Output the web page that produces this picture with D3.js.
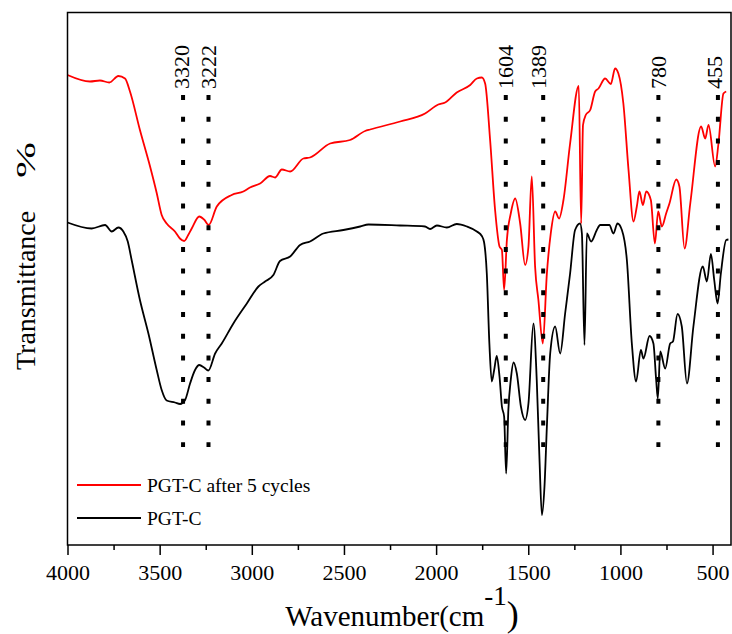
<!DOCTYPE html>
<html>
<head>
<meta charset="utf-8">
<title>FTIR spectra PGT-C</title>
<script src="https://d3js.org/d3.v7.min.js"></script>
<style>
  body { margin: 0; background: #fff; }
  text { font-family: "Liberation Serif", "Times New Roman", serif; fill: #000; }
</style>
</head>
<body>
<script>
// spectra: wavenumber (cm-1) and transmittance (arb. units)
var redWave = [4000, 3878, 3824, 3773, 3724, 3688, 3661, 3607, 3552, 3516, 3489, 3462, 3417, 3390, 3367, 3345,
    3326, 3285, 3259, 3234, 3190, 3109, 3046, 3010, 2955, 2901, 2874, 2837, 2792, 2720, 2684, 2575, 2467,
    2385, 2358, 2195, 2060, 1988, 1951, 1888, 1815, 1779, 1752, 1734, 1707, 1680, 1656, 1643, 1631, 1616,
    1595, 1571, 1544, 1517, 1499, 1481, 1463, 1445, 1421, 1399, 1378, 1354, 1333, 1309, 1273, 1226, 1213,
    1203, 1188, 1164, 1137, 1119, 1083, 1052, 1029, 1011, 984, 956, 929, 911, 897, 878, 860, 835, 813,
    795, 775, 752, 734, 697, 680, 652, 621, 562, 540, 522, 486, 468, 441, 426];
var redT = [94.0, 92.7, 92.9, 92.5, 93.8, 93.3, 90.7, 83.0, 75.7, 70.4, 66.0, 64.3, 62.7, 61.3, 60.8, 62.0,
    63.3, 65.7, 65.1, 64.0, 67.7, 70.0, 70.7, 71.5, 72.3, 73.8, 73.5, 75.1, 74.7, 77.3, 77.5, 80.3, 81.0,
    82.8, 83.1, 84.7, 86.3, 88.1, 88.5, 90.5, 92.0, 93.3, 93.5, 92.3, 81.0, 67.0, 59.7, 59.0, 51.0, 61.0,
    66.3, 69.3, 64.3, 56.0, 59.7, 73.7, 55.7, 49.0, 40.3, 54.3, 62.3, 66.7, 65.3, 69.0, 80.3, 91.8, 64.3,
    84.0, 86.0, 87.0, 90.7, 91.3, 93.3, 92.2, 95.3, 94.3, 88.3, 75.0, 64.7, 67.7, 70.7, 68.0, 70.7, 69.0, 60.3,
    66.7, 63.7, 66.3, 68.3, 73.1, 71.7, 59.3, 68.3, 83.7, 81.3, 84.0, 75.7, 80.3, 90.3, 90.7];

var blackWave = [4000, 3869, 3796, 3760, 3724, 3697, 3673, 3652, 3607, 3561, 3516, 3489, 3462, 3417, 3389,
    3362, 3335, 3308, 3285, 3259, 3236, 3199, 3163, 3100, 3027, 2964, 2928, 2883, 2847, 2792, 2738, 2684,
    2612, 2503, 2412, 2367, 2195, 2060, 2033, 1996, 1942, 1888, 1833, 1779, 1752, 1740, 1725, 1711, 1698,
    1685, 1671, 1656, 1643, 1631, 1620, 1608, 1595, 1580, 1562, 1540, 1517, 1499, 1472, 1454, 1439, 1426,
    1412, 1399, 1381, 1354, 1327, 1300, 1273, 1246, 1219, 1209, 1195, 1182, 1159, 1128, 1110, 1060, 1038,
    1016, 992, 965, 938, 915, 889, 875, 842, 821, 806, 797, 784, 757, 730, 715, 690, 667, 639, 604, 553,
    531, 509, 491, 473, 455, 426, 414];
var blackT = [64.5, 63.3, 64.0, 62.7, 63.5, 62.7, 60.7, 57.0, 49.0, 42.3, 35.0, 31.0, 28.9, 28.5, 28.2,
    29.0, 32.3, 35.0, 36.0, 35.5, 34.9, 38.3, 40.3, 44.3, 48.3, 51.7, 52.7, 54.0, 56.8, 57.7, 60.0, 60.7,
    62.3, 63.0, 63.7, 64.1, 63.9, 63.7, 63.2, 63.9, 63.5, 64.2, 63.7, 62.7, 61.8, 60.6, 54.3, 40.3, 32.7,
    35.0, 37.8, 33.7, 27.7, 25.7, 14.3, 27.0, 33.0, 36.5, 34.3, 27.7, 25.0, 28.3, 44.3, 33.0, 17.0, 6.0,
    11.7, 23.7, 38.3, 43.7, 38.3, 46.3, 54.3, 63.0, 64.3, 62.3, 40.0, 62.3, 60.7, 63.0, 64.0, 64.0, 62.3,
    64.3, 63.0, 57.0, 40.3, 32.7, 39.0, 37.3, 41.8, 40.3, 33.0, 29.3, 38.7, 35.3, 40.3, 40.7, 46.2, 43.7, 32.3, 43.7,
    55.7, 52.7, 58.2, 53.0, 48.3, 54.3, 61.0, 61.1];

var peakLabels = ["3320", "3222", "1604", "1389", "780", "455"];
var peakAt = [3373, 3235, 1622, 1419, 794, 471];

var majorTicks = [4000, 3500, 3000, 2500, 2000, 1500, 1000, 500];
var minorTicks = [3750, 3250, 2750, 2250, 1750, 1250, 750];

var seriesNames = ["PGT-C after 5 cycles", "PGT-C"];
var seriesColors = ["#ff0000", "#000000"];

var serif = "'Liberation Serif', 'Times New Roman', serif";

var svg = d3.select("body").append("svg")
    .attr("width", 732)
    .attr("height", 634)
    .attr("font-family", serif);

var x = d3.scaleLinear().domain([4000, 400]).range([67.5, 731]);
var y = d3.scaleLinear().domain([0, 106.5]).range([545, 12.5]);

var line = d3.line()
    .x(function(d) { return x(d[0]); })
    .y(function(d) { return y(d[1]); })
    .curve(d3.curveMonotoneX);

var series = [
    d3.zip(redWave, redT),
    d3.zip(blackWave, blackT)
];

// black first, red on top
svg.selectAll("path.spec")
    .data([1, 0])
    .enter()
    .append("path")
    .attr("class", "spec")
    .attr("d", function(i) { return line(series[i]); })
    .attr("fill", "none")
    .attr("stroke", function(i) { return seriesColors[i]; })
    .attr("stroke-width", 1.8)
    .attr("stroke-linejoin", "round");

// dotted peak markers
var labelShift = { "3320": -2, "1389": -5, "455": -4 };
var peaks = d3.zip(peakLabels, peakAt);

svg.selectAll("line.peak")
    .data(peaks)
    .enter()
    .append("line")
    .attr("class", "peak")
    .attr("x1", function(d) { return x(d[1]); })
    .attr("x2", function(d) { return x(d[1]); })
    .attr("y1", 95)
    .attr("y2", 447)
    .attr("stroke", "#000")
    .attr("stroke-width", 4)
    .attr("stroke-dasharray", "5 16.7");

svg.selectAll("text.peak")
    .data(peaks)
    .enter()
    .append("text")
    .attr("class", "peak")
    .attr("transform", function(d) {
        var px = x(d[1]) + (labelShift[d[0]] || 0);
        return "translate(" + px + ",89) rotate(-90)";
    })
    .attr("dy", "0.35em")
    .attr("text-anchor", "start")
    .style("font-size", "22px")
    .text(function(d) { return d[0]; });

// frame
svg.append("rect")
    .attr("x", 67.5)
    .attr("y", 12.5)
    .attr("width", 731 - 67.5)
    .attr("height", 545 - 12.5)
    .attr("fill", "none")
    .attr("stroke", "#000")
    .attr("stroke-width", 1.5);

// x axis
var xAxis = svg.append("g")
    .attr("transform", "translate(0,545)")
    .call(d3.axisBottom(x).tickValues(majorTicks).tickSize(10).tickPadding(9).tickSizeOuter(0)
        .tickFormat(d3.format("d")));
xAxis.attr("font-family", serif).attr("font-size", 22);
xAxis.select(".domain").remove();
xAxis.selectAll(".tick line").attr("stroke-width", 1.5);
xAxis.selectAll("text").style("font-size", "22px");

var xMinor = svg.append("g")
    .attr("transform", "translate(0,545)")
    .call(d3.axisBottom(x).tickValues(minorTicks).tickSize(5).tickSizeOuter(0).tickFormat(""));
xMinor.select(".domain").remove();
xMinor.selectAll(".tick line").attr("stroke-width", 1.5);

// axis titles
var xt = svg.append("text")
    .attr("x", 402)
    .attr("y", 626)
    .attr("text-anchor", "middle")
    .style("font-size", "29px");
xt.append("tspan").text("Wavenumber(cm");
xt.append("tspan").attr("dy", -21).style("font-size", "27px").text("-1");
xt.append("tspan").attr("dy", 21).style("font-size", "36px").text(")");

svg.append("text")
    .attr("transform", "translate(35,370) rotate(-90)")
    .attr("text-anchor", "start")
    .style("font-size", "28px")
    .text("Transmittance");
svg.append("text")
    .attr("transform", "translate(35,178) rotate(-90)")
    .attr("text-anchor", "start")
    .attr("textLength", 36)
    .attr("lengthAdjust", "spacingAndGlyphs")
    .style("font-size", "28px")
    .text("%");

// legend
var legend = svg.selectAll("g.legend")
    .data(seriesNames)
    .enter()
    .append("g")
    .attr("class", "legend")
    .attr("transform", function(d, i) { return "translate(77," + (485 + i * 33) + ")"; });
legend.append("line")
    .attr("x1", 0).attr("x2", 64)
    .attr("stroke", function(d, i) { return seriesColors[i]; })
    .attr("stroke-width", 1.8);
legend.append("text")
    .attr("x", 70)
    .attr("dy", "0.35em")
    .style("font-size", "19.5px")
    .text(function(d) { return d; });
</script>
</body>
</html>
